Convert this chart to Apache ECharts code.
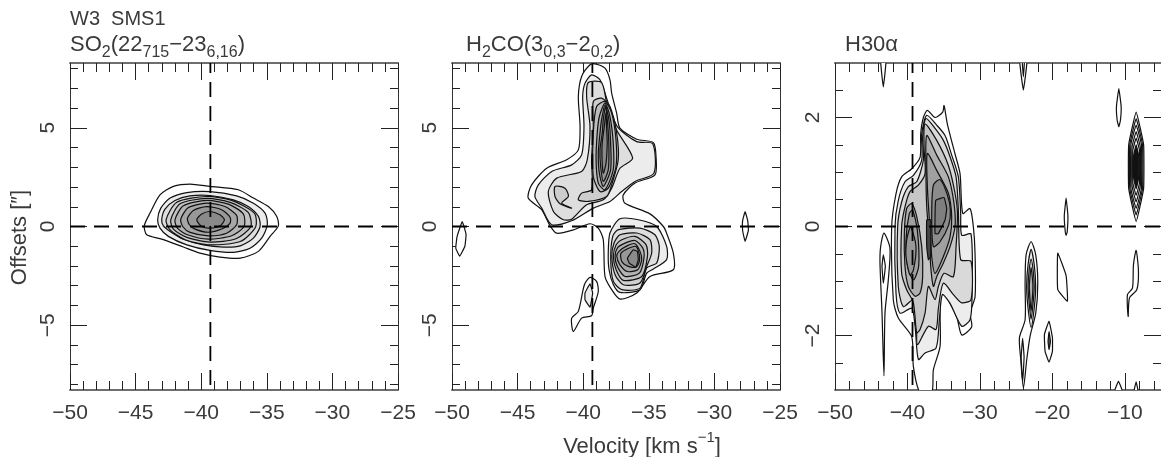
<!DOCTYPE html>
<html><head><meta charset="utf-8">
<style>html,body{margin:0;padding:0;background:#fff}#c{width:1161px;height:457px}</style>
<script src="https://cdn.jsdelivr.net/npm/echarts@6/dist/echarts.min.js"></script>
</head><body><div id="c"></div>
<script>
// ---------- axis data ----------
const vel1Major=[-50,-45,-40,-35,-30,-25];
const vel1Minor=[-49,-48,-47,-46,-44,-43,-42,-41,-39,-38,-37,-36,-34,-33,-32,-31,-29,-28,-27,-26];
const off1Major=[-5,0,5];
const off1Minor=[-8,-7,-6,-4,-3,-2,-1,1,2,3,4,6,7,8];
const vel3Major=[-50,-40,-30,-20,-10];
const vel3Minor=[-48,-46,-44,-42,-38,-36,-34,-32,-28,-26,-24,-22,-18,-16,-14,-12,-8,-6];
const off3Major=[-2,0,2];
const off3Minor=[-2.5,-1.5,-1,-0.5,0.5,1,1.5,2.5];
const sourceVelocity=-39.3;

// ---------- SO2 contours [velocity, offset] ----------
const so2_1=[[-44.34,0.03],[-43.9,0.68],[-43.14,1.6],[-42.12,2.03],[-40.85,2.15],[-39.33,2.03],[-37.17,1.86],[-36.02,1.44],[-34.88,1.01],[-34.24,0.51],[-34.12,0.03],[-34.75,-0.5],[-35.64,-1.26],[-37.02,-1.6],[-38.57,-1.55],[-40.09,-1.35],[-41.36,-1.04],[-43.01,-0.64],[-44.15,-0.42]];
const so2_2=[[-43.32,0.34],[-43.08,0.93],[-42.37,1.44],[-41.1,1.72],[-39.33,1.77],[-37.3,1.55],[-36.02,1.18],[-35.13,0.68],[-34.96,0.09],[-35.39,-0.59],[-36.28,-1.1],[-37.55,-1.31],[-39.33,-1.21],[-41.1,-0.93],[-42.5,-0.5],[-43.14,-0.08]];
const so2_3=[[-43.01,0.34],[-42.76,0.88],[-42,1.32],[-40.85,1.55],[-39.33,1.57],[-37.55,1.35],[-36.41,1.01],[-35.64,0.51],[-35.51,0],[-36.02,-0.59],[-37.02,-0.98],[-38.29,-1.04],[-39.83,-0.93],[-41.36,-0.64],[-42.37,-0.25],[-42.88,0.03]];
const so2_4=[[-42.68,0.34],[-41.86,1.23],[-39.58,1.52],[-37.68,1.32],[-35.95,0.68],[-35.85,-0.03],[-37.02,-0.76],[-39.33,-0.93],[-41.22,-0.67],[-42.37,-0.17]];
const so2_5=[[-42.32,0.34],[-41.61,1.15],[-39.58,1.42],[-37.8,1.22],[-36.41,0.71],[-36.22,0],[-37.35,-0.62],[-39.33,-0.79],[-41.1,-0.55],[-42.12,-0.13]];
const so2_6=[[-42,0.34],[-41.36,1.05],[-39.58,1.32],[-37.93,1.13],[-36.79,0.64],[-36.73,0],[-37.68,-0.47],[-39.45,-0.64],[-41.05,-0.42],[-41.81,-0.08]];
const so2_7=[[-41.56,0.37],[-40.98,0.96],[-39.58,1.18],[-38.19,1.01],[-37.3,0.56],[-37.3,0.09],[-38.06,-0.34],[-39.45,-0.47],[-40.85,-0.3],[-41.41,0]];
const so2_8=[[-41.05,0.42],[-40.6,0.81],[-39.58,1.01],[-38.44,0.85],[-37.8,0.47],[-37.8,0.17],[-38.44,-0.13],[-39.45,-0.29],[-40.47,-0.13],[-40.9,0.09]];
const so2_9=[[-40.34,0.34],[-39.96,0.63],[-39.33,0.76],[-38.57,0.59],[-38.23,0.34],[-38.57,0.03],[-39.33,-0.08],[-39.96,0]];

// ---------- H2CO contours ----------
const h2co_1=[[-39.48,8.19],[-39.1,8.24],[-38.34,8.02],[-37.96,7.43],[-37.83,6.75],[-37.45,5.74],[-37.2,4.98],[-35.92,4.42],[-34.65,4.25],[-34.45,3.55],[-34.53,2.62],[-36.05,2.2],[-36.95,1.6],[-36.82,1.18],[-34.91,0.64],[-33.89,0],[-33.64,-0.34],[-33.13,-1.35],[-33.13,-2.19],[-34.91,-2.53],[-35.92,-3.37],[-37.19,-3.68],[-37.83,-3.2],[-38.34,-2.53],[-38.47,-0.67],[-38.85,-0.08],[-39.48,0.14],[-40.75,-0.17],[-42.02,-0.34],[-42.53,0.04],[-43.17,0.85],[-44.19,1.44],[-43.93,2.11],[-42.78,2.95],[-41.26,3.38],[-40.37,3.88],[-40.24,5.06],[-40.37,6.58],[-40.12,7.6]];
const h2co_2=[[-39.86,7.26],[-39.36,7.68],[-38.72,7.43],[-38.09,6.25],[-37.4,5.06],[-35.92,4.3],[-34.7,4.19],[-34.61,2.7],[-36.05,2.28],[-37.07,1.77],[-37.96,1.27],[-39.23,0.93],[-40.88,0.29],[-42.4,0.09],[-43.16,0.93],[-43.68,1.52],[-43.42,2.11],[-42.4,2.79],[-40.88,3.12],[-40.12,3.63],[-39.94,5.06],[-40.04,6.58]];
const h2co_3=[[-39.61,7.29],[-38.6,7.29],[-38.2,6.25],[-37.46,4.9],[-36.23,3.46],[-37.2,2.95],[-37.83,1.94],[-38.47,1.35],[-39.74,1.1],[-40.88,0.37],[-41.51,0.34],[-42.27,0.76],[-42.66,1.77],[-42.02,2.45],[-40.12,2.79],[-39.69,3.38],[-39.48,5.06],[-39.74,6.58]];
const h2co_leaf=[[-42.15,2.03],[-41.39,1.94],[-41.13,1.52],[-41.64,1.18],[-40.88,0.93],[-41.77,1.15],[-42.15,1.52]];
const h2co_4=[[-39.23,6.33],[-38.6,6.5],[-37.96,6.08],[-37.45,4.73],[-37.33,3.38],[-37.83,2.11],[-38.21,1.52],[-39.61,1.27],[-40.37,1.35],[-40.12,1.69],[-39.36,1.86],[-39.36,3.38],[-39.23,5.06]];
const h2co_5=[[-38.98,6.08],[-38.34,6.33],[-37.83,5.74],[-37.5,4.39],[-37.5,3.04],[-38.09,1.94],[-38.72,1.77],[-39.23,2.53],[-39.23,4.73]];
const h2co_6=[[-38.77,5.57],[-38.34,6.25],[-37.96,5.57],[-37.71,4.22],[-37.71,2.87],[-38.34,1.86],[-38.85,2.2],[-39.02,3.38],[-38.93,4.73]];
const h2co_7=[[-38.6,5.4],[-38.34,6.16],[-38.04,5.4],[-37.91,4.22],[-37.91,2.87],[-38.47,2.03],[-38.77,2.7],[-38.85,3.71],[-38.72,4.73]];
const h2co_8=[[-38.47,5.4],[-38.29,6.08],[-38.14,5.23],[-38.04,4.05],[-38.09,2.87],[-38.47,2.28],[-38.67,3.04],[-38.72,3.88],[-38.55,4.73]];
const h2co_9=[[-38.39,5.06],[-38.26,5.74],[-38.21,4.9],[-38.17,4.22],[-38.26,3.21],[-38.47,2.7],[-38.57,3.55],[-38.55,4.22]];
const h2coLow_2=[[-38.09,-1.34],[-37.96,-0.33],[-37.2,0.39],[-35.8,0.34],[-34.4,0],[-33.64,-1.01],[-33.64,-1.68],[-34.65,-2.15],[-35.16,-2.36],[-35.67,-3.2],[-37.2,-3.34],[-37.7,-2.95],[-38.03,-2.19]];
const h2coLow_3=[[-37.75,-0.5],[-37.32,-0.16],[-35.67,-0.08],[-34.53,-0.42],[-34.2,-1.01],[-34.4,-1.85],[-35.16,-2.1],[-35.67,-3.12],[-37.06,-3.2],[-37.7,-2.78],[-37.9,-1.68]];
const h2coLow_4=[[-37.65,-0.84],[-37.2,-0.42],[-35.92,-0.33],[-34.91,-0.67],[-34.78,-1.34],[-35.16,-2.02],[-35.67,-2.86],[-36.94,-2.95],[-37.57,-2.44],[-37.82,-1.51]];
const h2coLow_5=[[-37.49,-0.92],[-37.06,-0.67],[-36.05,-0.5],[-35.21,-0.92],[-35.1,-1.51],[-35.54,-2.53],[-36.94,-2.73],[-37.49,-2.19],[-37.7,-1.51]];
const h2coLow_6=[[-37.4,-1.09],[-36.81,-0.84],[-36.05,-0.71],[-35.46,-1.09],[-35.37,-1.6],[-35.72,-2.36],[-36.81,-2.53],[-37.4,-2.02],[-37.57,-1.51]];
const h2coLow_7=[[-37.27,-1.26],[-36.63,-0.97],[-36.05,-0.87],[-35.67,-1.26],[-35.54,-1.68],[-35.84,-2.19],[-36.63,-2.28],[-37.2,-1.94],[-37.44,-1.51]];
const h2coLow_8=[[-37.12,-1.35],[-36.49,-1.09],[-35.97,-1.01],[-35.72,-1.43],[-35.72,-1.77],[-35.97,-2.06],[-36.56,-2.02],[-37.06,-1.77]];
const h2coLow_9=[[-36.63,-1.6],[-36.18,-1.18],[-35.87,-1.27],[-35.8,-1.68],[-36,-2.06],[-36.49,-1.85]];
const h2coSouth_1=[[-39.91,-2.95],[-39.48,-2.58],[-38.98,-2.78],[-38.85,-3.29],[-39.23,-4.13],[-39.36,-4.52],[-40.12,-4.64],[-40.75,-5.31],[-40.88,-4.64],[-40.37,-4.3]];
const h2coSouth_2=[[-39.86,-3.37],[-39.48,-2.9],[-39.28,-3.37],[-39.48,-4.08],[-39.86,-3.71]];
const h2coEast=[[-27.66,0.75],[-27.46,0.3],[-27.41,-0.2],[-27.66,-0.75],[-27.85,-0.2],[-27.85,0.3]];
const h2coWest=[[-49.22,0.25],[-48.93,-0.4],[-49.02,-1],[-49.41,-1.5],[-49.71,-1.1],[-49.61,-0.5]];

// ---------- H30alpha contours ----------
const h30_1=[[-34.95,2.22],[-34.49,1.88],[-33.43,1.33],[-32.74,0.97],[-32.37,0.24],[-31.36,0.33],[-30.9,-0.01],[-30.67,-0.49],[-30.67,-1.29],[-31.36,-1.59],[-31.13,-1.84],[-32.51,-1.99],[-33.2,-1.65],[-34.35,-1.35],[-35.27,-1.1],[-35.5,-1.53],[-35.5,-2.2],[-36.42,-2.63],[-36.65,-3.05],[-38.26,-3.05],[-39.18,-2.57],[-39.41,-2.02],[-41.26,-1.68],[-41.95,-1.35],[-42.18,-0.01],[-41.58,0.6],[-40.8,0.91],[-39.41,1.06],[-38.26,1.27],[-38.17,1.7],[-37.8,2],[-37.25,2.13],[-36.19,2],[-35.13,2.1]];
const h30_2=[[-37.34,2.04],[-35.96,1.86],[-34.81,1.67],[-33.89,1.31],[-32.97,0.91],[-32.65,0.24],[-32.51,-0.16],[-31.22,-0.14],[-31.08,-1.28],[-31.36,-1.71],[-32.51,-1.83],[-34.12,-1.41],[-35.18,-1.25],[-35.59,-1.71],[-36.05,-2.23],[-37.57,-2.32],[-38.49,-2.44],[-38.95,-1.83],[-39.41,-1.5],[-41.03,-1.59],[-41.58,-1.22],[-41.72,0],[-41.26,0.48],[-40.34,0.82],[-39.18,0.94],[-38.03,1.22],[-38.03,1.7]];
const h30_3=[[-37.44,1.98],[-36.19,1.8],[-35.04,1.58],[-34.12,1.28],[-33.29,0.91],[-32.97,0.3],[-32.65,-0.61],[-31.22,-0.64],[-31.22,-1.34],[-32.51,-1.4],[-33.66,-1.25],[-35.04,-1.04],[-35.73,-1.5],[-36.05,-1.89],[-37.11,-1.83],[-38.63,-2.17],[-38.72,-1.71],[-39.18,-1.34],[-40.57,-1.47],[-41.26,-1.1],[-41.35,0],[-40.8,0.45],[-39.88,0.73],[-38.72,0.82],[-37.8,1.22],[-37.9,1.64]];
const h30_4=[[-37.57,1.88],[-35.96,1.58],[-34.35,1.12],[-33.43,0.61],[-33.1,0.24],[-33.29,-0.37],[-33.66,-0.92],[-34.95,-0.86],[-35.73,-1.1],[-36.19,-1.34],[-37.11,-1.1],[-37.57,-1.59],[-38.26,-1.89],[-38.72,-1.95],[-39.18,-1.4],[-40.11,-1.16],[-40.8,-0.86],[-40.8,0],[-40.34,0.36],[-39.65,0.64],[-38.49,0.76],[-37.57,0.97],[-37.71,1.46]];
const h30_5r=[[-37.34,1.67],[-35.96,1.31],[-34.35,0.91],[-33.57,0.42],[-33.43,0],[-34.12,-0.37],[-35.04,-0.67],[-35.96,-0.92],[-36.42,-1.1],[-36.79,-0.73],[-36.97,-0.25],[-37.34,0.36],[-37.44,1.03]];
const h30_5l=[[-40.11,0.33],[-39.41,0.42],[-38.72,0.18],[-38.03,-0.37],[-37.9,-0.92],[-38.26,-1.22],[-38.95,-1.28],[-39.88,-1.1],[-40.34,-0.73],[-40.43,-0.13]];
const h30_6r=[[-37.25,1.34],[-35.96,1.03],[-34.35,0.61],[-33.89,0.18],[-34.12,-0.19],[-35.04,-0.55],[-36.19,-0.86],[-36.65,-0.55],[-36.97,0.12],[-37.25,0.73]];
const h30_6l=[[-39.74,0.24],[-39.28,0.3],[-38.63,-0.07],[-38.45,-0.73],[-39.18,-0.98],[-39.97,-0.73],[-40.2,-0.25]];
const h30_7r=[[-36.42,0.76],[-35.5,0.86],[-34.49,0.58],[-34.07,0.3],[-34.3,0.03],[-35.5,-0.28],[-36.42,-0.37],[-36.65,0.18]];
const h30_7l=[[-39.74,-0.05],[-39.55,0],[-38.82,-0.37],[-39.18,-0.8],[-39.65,-0.89],[-40.2,-0.55],[-40.11,-0.25]];
const h30_8r=[[-36.1,0.48],[-34.95,0.53],[-34.58,0.33],[-34.81,0.12],[-35.73,-0.13],[-36.19,-0.13]];
const h30_stalk=[[-37.34,0.12],[-36.79,0.12],[-36.79,-0.55],[-37.11,-0.61],[-37.34,-0.37]];
const h30_a1=[[-43.24,-0.12],[-42.41,-0.4],[-42.64,-0.98],[-43.1,-1.59],[-43.24,-2.74],[-43.51,-1.59],[-43.79,-0.67],[-43.7,-0.37]];
const h30_a2=[[-43.33,-0.52],[-43.05,-0.73],[-43.33,-1.04],[-43.51,-0.73]];
const h30_b1=[[-22.93,-0.28],[-22.29,-0.52],[-22.01,-1.04],[-22.29,-1.59],[-23.07,-2.01],[-23.53,-2.44],[-23.99,-2.96],[-24.36,-2.44],[-24.54,-2.04],[-23.76,-1.71],[-23.76,-1.04],[-23.62,-0.52]];
const h30_b2=[[-22.93,-0.42],[-22.5,-0.7],[-22.3,-1.1],[-22.5,-1.5],[-22.93,-1.85],[-23.35,-1.5],[-23.55,-1.1],[-23.35,-0.7]];
const h30_b3=[[-22.93,-0.6],[-22.65,-0.8],[-22.5,-1.1],[-22.65,-1.4],[-22.93,-1.7],[-23.2,-1.4],[-23.35,-1.1],[-23.2,-0.8]];
const h30_b4=[[-22.93,-0.75],[-22.75,-0.95],[-22.68,-1.1],[-22.75,-1.3],[-22.93,-1.55],[-23.1,-1.3],[-23.18,-1.1],[-23.1,-0.95]];
const h30_b5=[[-24.1,-2.05],[-23.9,-2.4],[-24.1,-2.85],[-24.3,-2.4]];
const h30_c1=[[-20.45,-1.74],[-19.99,-2.04],[-19.99,-2.29],[-20.45,-2.49],[-21,-2.29],[-21.09,-1.98]];
const h30_c2=[[-20.45,-1.93],[-20.26,-2.11],[-20.45,-2.26],[-20.59,-2.11]];
const h30_d=[[-19.25,-0.49],[-18.1,-0.9],[-17.92,-1.37],[-19.25,-1.16]];
const h30_e=[[-18.1,0.52],[-17.85,0.2],[-17.95,-0.1],[-18.1,-0.16],[-18.25,-0.05],[-18.35,0.2]];
const h30_f=[[-10.82,2.53],[-10.5,2.2],[-10.6,1.95],[-10.82,1.83],[-11.05,1.95],[-11.15,2.2]];
const h30_g=[[-8.43,-0.44],[-8.11,-0.83],[-8.34,-1.16],[-9.35,-1.31],[-9.53,-1.65],[-9.63,-1.25],[-8.94,-1.13],[-8.8,-0.7]];
const h30_h=[[-10.87,-2.84],[-10.27,-3.05],[-11.47,-3.05]];
const h30_i=[[-8.43,-2.85],[-8.15,-3.05],[-8.75,-3.05]];
const h30_j1=[[-24.5,3.05],[-24,2.5],[-23.5,3.05]];
const h30_j2=[[-24.15,3.05],[-24,2.75],[-23.85,3.05]];
const h30_k=[[-43.7,3.05],[-43.33,2.56],[-42.96,3.05]];
const h30_s1=[[-8.43,2.1],[-7.4,1.5],[-7.4,0.7],[-8.43,0.09],[-9.46,0.7],[-9.46,1.5]];
const h30_s2=[[-8.43,1.98],[-7.55,1.5],[-7.55,0.7],[-8.43,0.21],[-9.31,0.7],[-9.31,1.5]];
const h30_s3=[[-8.43,1.86],[-7.7,1.5],[-7.7,0.7],[-8.43,0.33],[-9.16,0.7],[-9.16,1.5]];
const h30_s4=[[-8.43,1.74],[-7.85,1.45],[-7.85,0.75],[-8.43,0.45],[-9.01,0.75],[-9.01,1.45]];
const h30_s5=[[-8.43,1.62],[-7.97,1.4],[-7.97,0.8],[-8.43,0.57],[-8.89,0.8],[-8.89,1.4]];
const h30_s6=[[-8.43,1.5],[-8.08,1.3],[-8.08,0.9],[-8.43,0.69],[-8.78,0.9],[-8.78,1.3]];

// ---------- which contours, in drawing order, with which grey ----------
const W='#ffffff';
const so2Layers=[[so2_1,W],[so2_2,'#ececec'],[so2_3,'#dedede'],[so2_4,'#d0d0d0'],[so2_5,'#c2c2c2'],[so2_6,'#b4b4b4'],[so2_7,'#a6a6a6'],[so2_8,'#989898'],[so2_9,'#8a8a8a']];
const h2coLayers=[[h2co_1,W],[h2co_2,'#ececec'],[h2co_3,'#dedede'],[h2co_leaf,'#cdcdcd'],[h2co_4,'#cdcdcd'],[h2co_5,'#bdbdbd'],[h2co_6,'#adadad'],[h2co_7,'#a0a0a0'],[h2co_8,'#949494'],[h2co_9,'#8a8a8a'],
 [h2coLow_2,'#ececec'],[h2coLow_3,'#dedede'],[h2coLow_4,'#d0d0d0'],[h2coLow_5,'#c2c2c2'],[h2coLow_6,'#b4b4b4'],[h2coLow_7,'#a6a6a6'],[h2coLow_8,'#989898'],[h2coLow_9,'#8a8a8a'],
 [h2coSouth_1,W],[h2coSouth_2,'#ececec'],[h2coEast,W],[h2coWest,W]];
const h30Layers=[[h30_1,W],[h30_2,'#ededed'],[h30_3,'#d9d9d9'],[h30_4,'#c6c6c6'],[h30_5r,'#b0b0b0'],[h30_5l,'#b0b0b0'],[h30_6r,'#a0a0a0'],[h30_6l,'#a0a0a0'],[h30_7r,'#8c8c8c'],[h30_7l,'#989898'],[h30_8r,'#7f7f7f'],[h30_stalk,'#444444'],
 [h30_a1,W],[h30_a2,W],[h30_b1,W],[h30_b2,'#ededed'],[h30_b3,'#d9d9d9'],[h30_b4,'#b0b0b0'],[h30_b5,W],[h30_c1,W],[h30_c2,'#555555'],[h30_d,W],[h30_e,W],[h30_f,W],[h30_g,W],[h30_h,W],[h30_i,W],[h30_j1,W],[h30_j2,W],[h30_k,W],
 [h30_s1,W],[h30_s2,W],[h30_s3,W],[h30_s4,W],[h30_s5,W],[h30_s6,'#111111']];

// ---------- panels ----------
const panels=[
 {left:70,width:328,xr:[-50,-25],yr:[-8.28,8.28],xM:vel1Major,xm:vel1Minor,yM:off1Major,ym:off1Minor,layers:so2Layers},
 {left:452,width:328,xr:[-50,-25],yr:[-8.28,8.28],xM:vel1Major,xm:vel1Minor,yM:off1Major,ym:off1Minor,layers:h2coLayers},
 {left:835,width:326,xr:[-50,-5],yr:[-3,3],xM:vel3Major,xm:vel3Minor,yM:off3Major,ym:off3Minor,layers:h30Layers}
];
const FONT='"Liberation Sans",sans-serif', TXT='#3a3a3a';
const minus=v=>String(v).replace('-','\u2212');
const grid=[],xAxis=[],yAxis=[],series=[];
panels.forEach((p,i)=>{
 grid.push({left:p.left,width:p.width,top:63,height:327,containLabel:false,outerBoundsMode:'none'});
 const mk=(pos,vals,len,labels,range,isX,line)=>({
  type:'value',gridIndex:i,position:pos,min:range[0],max:range[1],
  splitLine:{show:false},
  axisLine:{show:line,onZero:false,lineStyle:{color:isX?'#6e6e6e':'#333',width:isX?2:1}},
  axisTick:{show:true,inside:true,length:len,customValues:vals,lineStyle:{color:'#222',width:1}},
  axisLabel:labels?{show:true,customValues:vals,formatter:minus,margin:isX?13:11,rotate:isX?0:90,fontFamily:FONT,fontSize:21,color:TXT}:{show:false},
  minorTick:{show:false}
 });
 xAxis.push(mk('bottom',p.xM,17,true,p.xr,true,true),mk('top',p.xM,17,false,p.xr,true,true),mk('bottom',p.xm,9,false,p.xr,true,false),mk('top',p.xm,9,false,p.xr,true,false));
 yAxis.push(mk('left',p.yM,17,true,p.yr,false,true),mk('right',p.yM,17,false,p.yr,false,true),mk('left',p.ym,8,false,p.yr,false,false),mk('right',p.ym,8,false,p.yr,false,false));
 const xi=i*4,yi=i*4;
 p.layers.forEach(([pts,fill])=>{
  series.push({type:'custom',coordinateSystem:'cartesian2d',xAxisIndex:xi,yAxisIndex:yi,clip:true,silent:true,data:pts,encode:{x:0,y:1},
   renderItem(params,api){
    if(params.dataIndex!==0) return null;
    return {type:'polygon',shape:{points:pts.map(q=>api.coord(q)),smooth:pts.length>6?0.25:0.1},style:{fill,stroke:'#111',lineWidth:1.2}};
   }});
 });
 const dash=(d,off)=>({type:'line',xAxisIndex:xi,yAxisIndex:yi,data:d,showSymbol:false,silent:true,z:5,lineStyle:{color:'#000',width:1.8,type:[15,9],dashOffset:off}});
 series.push(dash([[p.xr[0],0],[p.xr[1],0]],i===2?2:0));
 series.push(dash([[sourceVelocity,p.yr[1]],[sourceVelocity,p.yr[0]]],5));
});
// axis names
xAxis[4].name='{a|Velocity [km s}{u|\u22121}{a|]}';
xAxis[4].nameLocation='middle';xAxis[4].nameGap=40;
xAxis[4].nameTextStyle={padding:[0,0,0,52],rich:{a:{fontFamily:FONT,fontSize:22,color:TXT,lineHeight:28,verticalAlign:'bottom'},u:{fontFamily:FONT,fontSize:15,color:TXT,lineHeight:28,verticalAlign:'top'}}};
yAxis[0].name='Offsets [\u2033]';
yAxis[0].nameLocation='middle';yAxis[0].nameGap=39;
yAxis[0].nameTextStyle={fontFamily:FONT,fontSize:22,color:TXT,padding:[0,22,0,0]};
const rich={b:{fontFamily:FONT,fontSize:22,fontWeight:'normal',color:TXT,lineHeight:32,verticalAlign:'middle'},s:{fontFamily:FONT,fontSize:16,fontWeight:'normal',color:TXT,lineHeight:16,verticalAlign:'bottom'}};
const title=[
 {left:70,top:9,padding:0,text:'W3  SMS1',textStyle:{fontFamily:FONT,fontSize:20,fontWeight:'normal',color:TXT}},
 {left:70,top:29,padding:0,text:'{b|SO}{s|2}{b|(22}{s|715}{b|\u221223}{s|6,16}{b|)}',textStyle:{rich}},
 {left:466,top:29,padding:0,text:'{b|H}{s|2}{b|CO(3}{s|0,3}{b|\u22122}{s|0,2}{b|)}',textStyle:{rich}},
 {left:845,top:29,padding:0,text:'{b|H30\u03b1}',textStyle:{rich}}
];
const chart=echarts.init(document.getElementById('c'),null,{renderer:'canvas'});
chart.setOption({animation:false,backgroundColor:'#fff',title,grid,xAxis,yAxis,series});
</script></body></html>
